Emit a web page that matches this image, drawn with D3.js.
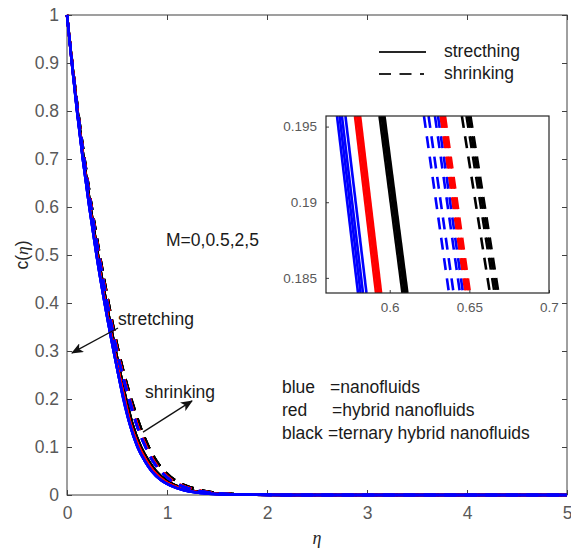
<!DOCTYPE html>
<html>
<head>
<meta charset="utf-8">
<script src="https://cdn.jsdelivr.net/npm/d3@7"></script>
<style>
  body { margin: 0; background: #fff; }
  svg { display: block; }
  text { font-family: "Liberation Sans", Arial, sans-serif; }
</style>
</head>
<body>
<svg id="chart" width="571" height="551"></svg>
<script>
// Concentration profiles c(eta) for M = 0, 0.5, 2, 5
const mValues = [0, 0.5, 2, 5];

// c levels at which each fluid profile is sampled (eta read at each level)
const cLevels = [1, 0.9, 0.8, 0.7, 0.6, 0.5, 0.4, 0.3, 0.25, 0.15, 0.1, 0.07, 0.05, 0.03, 0.02, 0.01, 0.005, 0.002, 0.0005, 0, 0];

const etaBlueStretch  = [0, 0.048, 0.100, 0.158, 0.223, 0.295, 0.376, 0.466, 0.514, 0.624, 0.705, 0.780, 0.845, 0.945, 1.030, 1.170, 1.300, 1.470, 1.750, 2.200, 5];
const etaRedStretch   = [0, 0.049, 0.102, 0.161, 0.227, 0.300, 0.382, 0.474, 0.523, 0.633, 0.720, 0.797, 0.864, 0.966, 1.053, 1.195, 1.330, 1.500, 1.790, 2.250, 5];
const etaBlackStretch = [0, 0.051, 0.106, 0.167, 0.235, 0.310, 0.394, 0.487, 0.538, 0.652, 0.740, 0.820, 0.890, 0.995, 1.085, 1.230, 1.370, 1.540, 1.830, 2.300, 5];
const etaBlueShrink   = [0, 0.051, 0.107, 0.170, 0.240, 0.317, 0.402, 0.498, 0.555, 0.690, 0.785, 0.860, 0.935, 1.040, 1.130, 1.280, 1.420, 1.600, 1.900, 2.400, 5];
const etaRedShrink    = [0, 0.052, 0.108, 0.172, 0.243, 0.321, 0.407, 0.504, 0.561, 0.698, 0.795, 0.871, 0.947, 1.054, 1.146, 1.300, 1.440, 1.620, 1.920, 2.420, 5];
const etaBlackShrink  = [0, 0.053, 0.111, 0.176, 0.248, 0.328, 0.416, 0.515, 0.574, 0.720, 0.818, 0.898, 0.975, 1.086, 1.182, 1.340, 1.480, 1.660, 1.960, 2.460, 5];

// Zoomed window: c at its upper and lower edge, and eta where each M curve crosses them
const insetC = [0.1957, 0.184];
const insetBlueStretch  = [[0.5669, 0.5801], [0.5685, 0.5817], [0.5700, 0.5832], [0.5722, 0.5854]];
const insetRedStretch   = [[0.5782, 0.5914], [0.5795, 0.5927], [0.5804, 0.5936], [0.5814, 0.5946]];
const insetBlackStretch = [[0.5936, 0.6080], [0.5949, 0.6093], [0.5958, 0.6102], [0.5967, 0.6111]];
const insetBlueShrink   = [[0.6215, 0.6372], [0.6244, 0.6401], [0.6284, 0.6441], [0.6303, 0.6460]];
const insetRedShrink    = [[0.6319, 0.6476], [0.6328, 0.6485], [0.6338, 0.6495], [0.6347, 0.6504]];
const insetBlackShrink  = [[0.6453, 0.6629], [0.6482, 0.6658], [0.6495, 0.6671], [0.6507, 0.6683]];

const xTicks = [0, 1, 2, 3, 4, 5];
const yTicks = [0, 0.1, 0.2, 0.3, 0.4, 0.5, 0.6, 0.7, 0.8, 0.9, 1];
const insetXTicks = [0.6, 0.65, 0.7];
const insetYTicks = [0.185, 0.19, 0.195];

const fluidColor = { blue: "#0000ff", red: "#ff0000", black: "#000000" };
const dashPattern = "12,8.5";

// draw order: black under red under blue
const groups = [
  { color: "black", dashed: false, eta: etaBlackStretch, inset: insetBlackStretch },
  { color: "black", dashed: true,  eta: etaBlackShrink,  inset: insetBlackShrink },
  { color: "red",   dashed: false, eta: etaRedStretch,   inset: insetRedStretch },
  { color: "red",   dashed: true,  eta: etaRedShrink,    inset: insetRedShrink },
  { color: "blue",  dashed: false, eta: etaBlueStretch,  inset: insetBlueStretch },
  { color: "blue",  dashed: true,  eta: etaBlueShrink,   inset: insetBlueShrink }
];

function curvePoints(eta, pair) {
  const pts = [];
  cLevels.forEach((c, i) => { if (c > insetC[0]) pts.push([eta[i], c]); });
  pts.push([pair[0], insetC[0]], [pair[1], insetC[1]]);
  cLevels.forEach((c, i) => { if (c < insetC[1]) pts.push([eta[i], c]); });
  return pts;
}

const series = [];
groups.forEach(g => {
  mValues.forEach((m, k) => {
    series.push({ color: fluidColor[g.color], dashed: g.dashed, M: m,
                  points: curvePoints(g.eta, g.inset[k]), inset: g.inset[k] });
  });
});

const svg = d3.select("#chart");
svg.append("rect").attr("width", 571).attr("height", 551).attr("fill", "#fff");

const x = d3.scaleLinear().domain([0, 5]).range([67, 567]);
const y = d3.scaleLinear().domain([0, 1]).range([495, 15]);

const axisColor = "#404040";
const tickText = "#595959";
const fmt = d3.format("~g");

function styleAxis(g, fontSize) {
  g.select(".domain").remove();
  g.selectAll(".tick line").attr("stroke", axisColor);
  g.selectAll(".tick text").attr("fill", tickText).style("font-size", fontSize + "px")
    .style("font-family", "'Liberation Sans', Arial, sans-serif");
}

// ---- main axes ----
svg.append("g").attr("transform", `translate(0,${y(0)})`)
  .call(d3.axisBottom(x).tickValues(xTicks).tickFormat(fmt).tickSizeInner(-5).tickSizeOuter(0).tickPadding(12))
  .call(g => styleAxis(g, 17.5));
svg.append("g").attr("transform", `translate(${x(0)},0)`)
  .call(d3.axisLeft(y).tickValues(yTicks).tickFormat(fmt).tickSizeInner(-5).tickSizeOuter(0).tickPadding(8))
  .call(g => styleAxis(g, 17.5));
svg.append("g").attr("transform", `translate(0,${y(1)})`)
  .call(d3.axisTop(x).tickValues(xTicks).tickFormat("").tickSizeInner(-5).tickSizeOuter(0))
  .call(g => styleAxis(g, 17.5));
svg.append("g").attr("transform", `translate(${x(5)},0)`)
  .call(d3.axisRight(y).tickValues(yTicks).tickFormat("").tickSizeInner(-5).tickSizeOuter(0))
  .call(g => styleAxis(g, 17.5));

svg.append("rect")
  .attr("x", x(0)).attr("y", y(1)).attr("width", x(5) - x(0)).attr("height", y(0) - y(1))
  .attr("fill", "none").attr("stroke", axisColor).attr("stroke-width", 1);

// ---- curves ----
const line = d3.line().x(d => x(d[0])).y(d => y(d[1])).curve(d3.curveMonotoneX);
svg.append("g").selectAll("path").data(series).join("path")
  .attr("d", d => line(d.points))
  .attr("fill", "none")
  .attr("stroke", d => d.color)
  .attr("stroke-width", 2.5)
  .attr("stroke-dasharray", d => d.dashed ? dashPattern : null);

// ---- axis labels ----
const ylab = svg.append("text")
  .attr("transform", `translate(28,${y(0.5)}) rotate(-90)`)
  .attr("text-anchor", "middle").attr("fill", "#262626").style("font-size", "17.5px");
ylab.append("tspan").text("c(");
ylab.append("tspan").text("η").style("font-family", "'Liberation Serif', serif").style("font-style", "italic");
ylab.append("tspan").text(")");

svg.append("text").attr("x", (x(0) + x(5)) / 2).attr("y", 544)
  .attr("text-anchor", "middle").attr("fill", "#262626")
  .style("font-family", "'Liberation Serif', serif").style("font-style", "italic").style("font-size", "18px")
  .text("η");

// ---- annotations ----
const defs = svg.append("defs");
defs.append("marker").attr("id", "arrowHead")
  .attr("viewBox", "0 0 12 10").attr("refX", 11).attr("refY", 5)
  .attr("markerWidth", 12).attr("markerHeight", 10)
  .attr("markerUnits", "userSpaceOnUse").attr("orient", "auto")
  .append("path").attr("d", "M0,0 L12,5 L0,10 L3,5 Z").attr("fill", "#111");

const annColor = "#1a1a1a";
function note(eta, c, str) {
  svg.append("text").attr("x", x(eta)).attr("y", y(c)).attr("fill", annColor)
    .style("font-size", "17.5px").text(str);
}
function arrow(eta0, c0, eta1, c1) {
  svg.append("line").attr("x1", x(eta0)).attr("y1", y(c0)).attr("x2", x(eta1)).attr("y2", y(c1))
    .attr("stroke", "#111").attr("stroke-width", 1.3).attr("marker-end", "url(#arrowHead)");
}

note(0.99, 0.519, "M=0,0.5,2,5");
note(0.51, 0.354, "stretching");
arrow(0.51, 0.348, 0.05, 0.296);
note(0.78, 0.202, "shrinking");
arrow(0.76, 0.131, 1.25, 0.196);

const keyNames = ["blue", "red", "black"];
const keyMeaning = ["=nanofluids", "=hybrid nanofluids", "=ternary hybrid nanofluids"];
const keyEqEta = [2.63, 2.65, 2.61];
const keyC = [0.2125, 0.1646, 0.1167];
keyNames.forEach((n, i) => {
  note(2.15, keyC[i], n);
  note(keyEqEta[i], keyC[i], keyMeaning[i]);
});

// ---- legend (line styles) ----
const legend = svg.append("g");
[{ label: "strecthing", dashed: false, yy: 52 }, { label: "shrinking", dashed: true, yy: 74 }].forEach(d => {
  legend.append("line").attr("x1", 379).attr("x2", d.dashed ? 424 : 426).attr("y1", d.yy).attr("y2", d.yy)
    .attr("stroke", "#262626").attr("stroke-width", 2)
    .attr("stroke-dasharray", d.dashed ? dashPattern : null);
  legend.append("text").attr("x", 444).attr("y", d.yy + 5).attr("fill", annColor)
    .style("font-size", "17.5px").text(d.label);
});

// ---- zoomed inset ----
const xi = d3.scaleLinear().domain([0.56, 0.70]).range([326, 549]);
const yi = d3.scaleLinear().domain([0.184, 0.1957]).range([293, 116]);

svg.append("rect").attr("x", xi(0.56)).attr("y", yi(0.1957))
  .attr("width", xi(0.70) - xi(0.56)).attr("height", yi(0.184) - yi(0.1957)).attr("fill", "#fff");

defs.append("clipPath").attr("id", "insetClip").append("rect")
  .attr("x", xi(0.56)).attr("y", yi(0.1957))
  .attr("width", xi(0.70) - xi(0.56)).attr("height", yi(0.184) - yi(0.1957));

const insetLine = d3.line().x(d => xi(d[0])).y(d => yi(d[1]));
svg.append("g").attr("clip-path", "url(#insetClip)")
  .selectAll("path").data(series).join("path")
  .attr("d", d => insetLine([[d.inset[0], insetC[0]], [d.inset[1], insetC[1]]]))
  .attr("fill", "none")
  .attr("stroke", d => d.color)
  .attr("stroke-width", 2.6)
  .attr("stroke-dasharray", d => d.dashed ? dashPattern : null);

svg.append("g").attr("transform", `translate(0,${yi(0.184)})`)
  .call(d3.axisBottom(xi).tickValues(insetXTicks).tickFormat(fmt).tickSizeInner(-3).tickSizeOuter(0).tickPadding(9))
  .call(g => styleAxis(g, 13.5));
svg.append("g").attr("transform", `translate(${xi(0.56)},0)`)
  .call(d3.axisLeft(yi).tickValues(insetYTicks).tickFormat(fmt).tickSizeInner(-3).tickSizeOuter(0).tickPadding(9))
  .call(g => styleAxis(g, 13.5));

svg.append("rect").attr("x", xi(0.56)).attr("y", yi(0.1957))
  .attr("width", xi(0.70) - xi(0.56)).attr("height", yi(0.184) - yi(0.1957))
  .attr("fill", "none").attr("stroke", "#262626").attr("stroke-width", 1.2);
</script>
</body>
</html>
